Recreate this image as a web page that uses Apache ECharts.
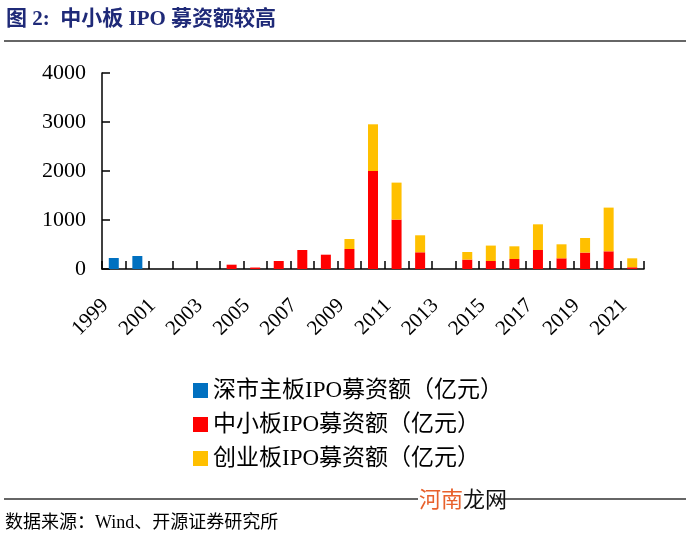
<!DOCTYPE html>
<html><head><meta charset="utf-8">
<script src="https://cdn.jsdelivr.net/npm/echarts@6/dist/echarts.min.js"></script>
<style>html,body{margin:0;padding:0;background:#fff}#c{width:686px;height:536px}</style>
</head><body><div id="c"></div>
<script>
const years = ['1999','2000','2001','2002','2003','2004','2005','2006','2007','2008','2009','2010','2011','2012','2013','2014','2015','2016','2017','2018','2019','2020','2021'];
const mainBoard = [224,265,null,null,null,null,null,null,null,null,null,null,null,null,null,null,null,null,null,null,null,null,null];
const smeBoard = [null,null,null,null,null,88,30,163,388,292,408,2000,1008,341,null,192,163,204,388,218,335,361,35];
const chinext = [null,null,null,null,null,null,null,null,null,null,204,953,755,347,null,155,315,259,524,286,298,892,183];
const seriesNames = ['深市主板IPO募资额（亿元）','中小板IPO募资额（亿元）','创业板IPO募资额（亿元）'];
const yTicks = {min:0,max:4000,interval:1000};

const serif = '"Liberation Serif","Times New Roman","Noto Sans CJK SC",serif';
const chart = echarts.init(document.getElementById('c'));
chart.setOption({
  animation:false,
  backgroundColor:'#fff',
  grid:{left:102,right:42,top:73,bottom:267},
  xAxis:{type:'category',data:years,
    axisLine:{lineStyle:{color:'#000',width:1.5}},
    axisTick:{show:true,inside:true,length:8,interval:0,lineStyle:{color:'#000',width:1.5}},
    axisLabel:{interval:1,rotate:45,margin:25,
      formatter:v=>'{a|'+v+'}',
      rich:{a:{color:'#000',fontFamily:serif,fontSize:21,padding:[0,12,0,0]}}}
  },
  yAxis:{type:'value',min:yTicks.min,max:yTicks.max,interval:yTicks.interval,
    splitLine:{show:false},
    axisLine:{show:true,lineStyle:{color:'#000',width:1.5}},
    axisTick:{show:true,inside:true,length:8,lineStyle:{color:'#000',width:1.5}},
    axisLabel:{color:'#000',fontFamily:serif,fontSize:22,margin:16,formatter:v=>String(v)}
  },
  legend:{orient:'vertical',left:188,top:374,itemWidth:15,itemHeight:15,itemGap:11,icon:'rect',
    textStyle:{fontFamily:serif,fontSize:23,color:'#000'},
    data:seriesNames},
  series:[
    {name:seriesNames[0],type:'bar',stack:'a',data:mainBoard,barWidth:10,itemStyle:{color:'#0070C0'}},
    {name:seriesNames[1],type:'bar',stack:'a',data:smeBoard,barWidth:10,itemStyle:{color:'#FF0000'}},
    {name:seriesNames[2],type:'bar',stack:'a',data:chinext,barWidth:10,itemStyle:{color:'#FFC000'}}
  ],
  graphic:[
    {type:'text',left:6,top:9,style:{text:'图 2:  中小板 IPO 募资额较高',fill:'#1F2A78',font:'bold 21px "Liberation Serif","Noto Sans CJK SC",serif'}},
    {type:'line',shape:{x1:4,y1:41,x2:686,y2:41},style:{stroke:'#333',lineWidth:1.5}},
    {type:'line',shape:{x1:4,y1:499,x2:418,y2:499},style:{stroke:'#333',lineWidth:1.5}},
    {type:'line',shape:{x1:493,y1:499,x2:686,y2:499},style:{stroke:'#333',lineWidth:1.5}},
    {type:'text',left:419,top:488,style:{text:'河南',fill:'#E8612C',font:'22px "Noto Sans CJK SC",sans-serif'}},
    {type:'text',left:463,top:488,style:{text:'龙网',fill:'#111',font:'22px "Noto Sans CJK SC",sans-serif'}},
    {type:'text',left:5,top:514,style:{text:'数据来源：Wind、开源证券研究所',fill:'#000',font:'18px "Liberation Serif","Noto Sans CJK SC",serif'}}
  ]
});
</script></body></html>
